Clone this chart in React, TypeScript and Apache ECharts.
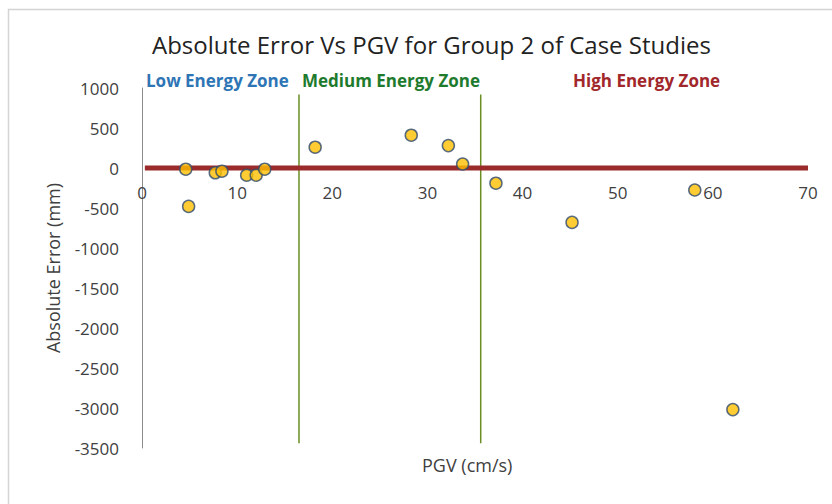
import React, { useEffect, useRef } from "react";
import * as echarts from "echarts";

const pgv = [4.6, 4.9, 7.7, 8.4, 11.0, 12.0, 12.9, 18.2, 28.3, 32.2, 33.7, 37.2, 45.2, 58.1, 62.1];
const absError = [-15, -480, -60, -40, -90, -90, -15, 260, 410, 280, 50, -190, -680, -275, -3020];
const zoneBoundaries = [16.5, 35.6];
const zoneNames = ["Low Energy Zone", "Medium Energy Zone", "High Energy Zone"];
const zoneColors = ["#2E75B6", "#1E7B2E", "#A1272B"];
const xTicks = { min: 0, max: 70, interval: 10 };
const yTicks = { min: -3500, max: 1000, interval: 500 };

const FONT = "'Open Sans', 'Noto Sans', sans-serif";

export default function App() {
  const ref = useRef<HTMLDivElement>(null);
  useEffect(() => {
    if (!ref.current) return;
    document.body.style.margin = "0";
    const chart = echarts.init(ref.current, null, { renderer: "svg" });
    const boundarySeries = zoneBoundaries.map((b) => ({
      type: "line",
      data: [[b, 920], [b, -3440]],
      symbol: "none",
      silent: true,
      lineStyle: { color: "#6B8E23", width: 1.5 },
      z: 2,
    }));
    chart.setOption({
      animation: false,
      textStyle: { fontFamily: FONT },
      title: {
        text: "Absolute Error Vs PGV for Group 2 of Case Studies",
        left: 147,
        top: 27,
        textStyle: { fontFamily: FONT, fontSize: 24, fontWeight: "normal", color: "#222" },
      },
      grid: { left: 142, right: 24, top: 88, bottom: 56, containLabel: false },
      xAxis: {
        type: "value",
        min: xTicks.min,
        max: xTicks.max,
        interval: xTicks.interval,
        position: "bottom",
        offset: -280,
        axisLine: { show: false, onZero: false },
        axisTick: { show: false },
        splitLine: { show: false },
        axisLabel: { fontSize: 17, color: "#404040", margin: 16, fontFamily: FONT },
      },
      yAxis: {
        type: "value",
        min: yTicks.min,
        max: yTicks.max,
        interval: yTicks.interval,
        name: "Absolute Error (mm)",
        nameLocation: "middle",
        nameGap: 80,
        nameTextStyle: { fontSize: 18, color: "#404040", fontFamily: FONT },
        axisLine: { show: true, onZero: false, lineStyle: { color: "#8c8c8c", width: 1 } },
        axisTick: { show: false },
        splitLine: { show: false },
        axisLabel: {
          fontSize: 17,
          color: "#404040",
          margin: 23,
          fontFamily: FONT,
          formatter: (v: number) => String(v),
        },
      },
      series: [
        ...boundarySeries,
        {
          type: "line",
          data: [[0.3, 0], [70, 0]],
          symbol: "none",
          silent: true,
          lineStyle: { color: "#9B2B2B", width: 5 },
          z: 3,
        },
        {
          type: "scatter",
          data: pgv.map((x, i) => [x, absError[i]]),
          symbol: "circle",
          symbolSize: 12,
          itemStyle: { color: "#FFC000", borderColor: "#2F4A6E", borderWidth: 1.5 },
          z: 4,
        },
      ],
      graphic: [
        {
          type: "rect",
          shape: { x: 8.5, y: 9.5, width: 900, height: 600 },
          style: { fill: "none", stroke: "#d4d4d4", lineWidth: 1.5 },
          silent: true,
          z: -1,
        },
        {
          type: "text",
          left: 146,
          top: 72,
          style: { text: zoneNames[0], fill: zoneColors[0], font: `bold 17px ${FONT}` },
        },
        {
          type: "text",
          left: 302,
          top: 72,
          style: { text: zoneNames[1], fill: zoneColors[1], font: `bold 17px ${FONT}` },
        },
        {
          type: "text",
          left: 573,
          top: 72,
          style: { text: zoneNames[2], fill: zoneColors[2], font: `bold 17px ${FONT}` },
        },
        {
          type: "text",
          left: 422,
          top: 456,
          style: { text: "PGV (cm/s)", fill: "#404040", font: `18px ${FONT}` },
        },
      ],
    });
    return () => chart.dispose();
  }, []);
  return <div ref={ref} style={{ width: 832, height: 504 }} />;
}
